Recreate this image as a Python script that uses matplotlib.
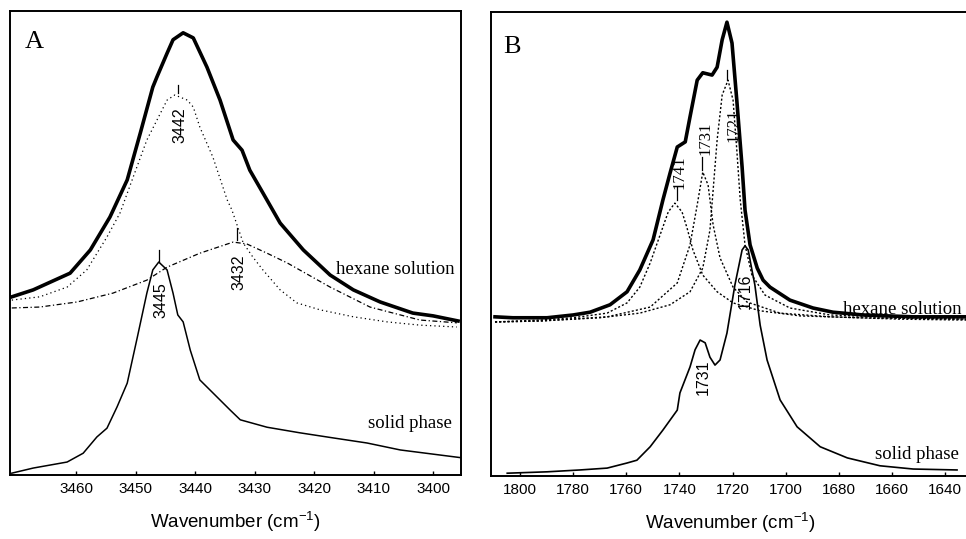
import matplotlib
matplotlib.use("Agg")
import matplotlib.pyplot as plt

# Panel A: O-H stretch region
a_total_wn = [3470.8, 3467.2, 3461.0, 3457.6, 3454.3, 3451.4, 3449.2, 3447.1, 3446.4, 3444.7,
              3443.7, 3442.0, 3440.3, 3438.0, 3435.8, 3433.6, 3432.1, 3430.8, 3428.6, 3425.7,
              3421.8, 3417.3, 3413.4, 3408.9, 3403.4, 3400.0, 3395.8]
a_total = [38.4, 39.9, 43.5, 48.5, 55.6, 63.6, 73.7, 83.6, 85.8, 90.9,
           93.8, 95.3, 94.2, 87.9, 80.8, 72.2, 70.0, 65.7, 60.8, 54.3,
           48.5, 43.1, 39.9, 37.3, 34.9, 34.3, 33.2]

a_c3442_wn = [3470.8, 3466.1, 3461.5, 3458.2, 3454.8, 3452.6, 3450.4, 3448.1, 3444.7, 3443.4,
              3441.3, 3440.3, 3439.2, 3437.0, 3434.6, 3433.8, 3431.9, 3430.3, 3428.6, 3425.7,
              3422.9, 3419.0, 3413.4, 3407.7, 3402.2, 3396.0]
a_c3442 = [37.7, 38.4, 40.5, 44.2, 51.3, 56.5, 64.2, 72.2, 80.8, 81.9,
           80.8, 79.3, 75.0, 68.5, 59.3, 57.1, 50.0, 47.0, 44.2, 39.9,
           37.1, 35.6, 34.1, 33.0, 32.3, 31.9]

a_c3432_wn = [3470.8, 3466.1, 3459.8, 3453.8, 3448.1, 3444.7, 3439.2, 3433.6, 3431.3, 3427.9,
              3424.5, 3417.3, 3410.6, 3402.2, 3396.0]
a_c3432 = [36.0, 36.2, 37.3, 39.2, 42.0, 44.8, 47.8, 50.2, 49.8, 47.8,
           45.7, 40.5, 36.2, 33.4, 32.8]

a_solid_wn = [3470.8, 3467.2, 3461.5, 3458.8, 3456.5, 3454.8, 3453.1, 3451.4, 3449.7, 3448.1,
              3447.1, 3446.1, 3444.7, 3443.7, 3442.9, 3442.0, 3440.8, 3439.2, 3437.0, 3434.1,
              3432.4, 3427.9, 3422.4, 3416.8, 3411.1, 3405.5, 3395.1]
a_solid = [0.4, 1.5, 2.8, 4.7, 8.2, 10.1, 14.7, 19.8, 29.7, 39.2,
           44.2, 45.9, 44.2, 39.2, 34.5, 33.0, 26.9, 20.5, 17.7, 14.0,
           11.9, 10.3, 9.1, 8.0, 6.9, 5.4, 3.7]

# Panel B: C=O stretch region
b_total_wn = [1809.4, 1802.7, 1789.8, 1780.0, 1773.6, 1766.1, 1759.7, 1754.9, 1749.9, 1746.2,
              1743.5, 1740.8, 1737.8, 1736.0, 1733.3, 1731.2, 1727.7, 1725.8, 1723.9, 1722.1,
              1720.2, 1718.4, 1716.4, 1715.3, 1713.4, 1710.7, 1708.5, 1705.9, 1698.4, 1689.7,
              1682.2, 1670.9, 1652.0, 1631.5]
b_total = [34.3, 34.1, 34.1, 34.7, 35.3, 36.9, 39.7, 44.4, 50.9, 59.5,
           65.3, 70.9, 72.0, 77.4, 85.3, 86.9, 86.4, 88.1, 94.0, 97.8,
           93.3, 81.0, 66.6, 57.3, 49.8, 44.8, 42.2, 40.7, 37.9, 36.2,
           35.3, 34.7, 34.3, 34.3]

b_c1741_wn = [1809.4, 1792.5, 1780.0, 1767.2, 1759.7, 1754.9, 1751.0, 1747.3, 1744.2, 1741.7,
              1739.0, 1737.1, 1734.9, 1731.2, 1725.8, 1719.8, 1709.6, 1694.6, 1672.0, 1631.5]
b_c1741 = [33.2, 33.6, 34.1, 35.1, 37.3, 40.7, 45.9, 51.9, 56.9, 58.8,
           56.9, 53.4, 48.7, 43.3, 39.7, 37.3, 35.6, 34.5, 34.1, 33.8]

b_c1731_wn = [1809.4, 1792.5, 1767.2, 1751.0, 1740.8, 1736.0, 1733.3, 1731.2, 1729.2, 1727.3,
              1724.7, 1719.8, 1714.6, 1702.1, 1683.3, 1656.9, 1631.5]
b_c1731 = [33.2, 33.4, 34.3, 36.4, 41.6, 49.8, 58.4, 65.5, 62.7, 54.1,
           47.0, 40.7, 37.5, 35.1, 34.3, 33.8, 33.6]

b_c1721_wn = [1809.4, 1792.5, 1769.9, 1754.9, 1743.5, 1736.0, 1731.2, 1728.5, 1727.3, 1725.8,
              1723.9, 1721.7, 1719.8, 1718.4, 1717.1, 1715.3, 1712.7, 1707.8, 1698.4, 1683.3,
              1656.9, 1631.5]
b_c1721 = [33.2, 33.4, 34.1, 35.1, 36.9, 39.7, 44.8, 53.0, 61.6, 72.4,
           82.1, 85.3, 81.0, 70.3, 59.5, 49.8, 43.3, 39.0, 36.2, 34.7,
           34.1, 33.8]

b_solid_wn = [1804.8, 1789.8, 1777.4, 1767.2, 1759.7, 1756.0, 1751.0, 1746.2, 1740.8, 1739.8,
              1736.0, 1734.1, 1732.2, 1730.3, 1728.5, 1726.6, 1724.7, 1722.1, 1719.1, 1716.4,
              1715.3, 1714.1, 1712.7, 1711.6, 1709.6, 1707.0, 1702.1, 1695.7, 1687.0, 1676.8,
              1664.5, 1652.0, 1635.5]
b_solid = [0.6, 0.9, 1.3, 1.7, 2.8, 3.4, 6.3, 9.9, 14.2, 17.9,
           23.5, 27.2, 29.3, 28.7, 25.6, 23.9, 25.0, 30.8, 41.2, 48.7,
           49.6, 48.7, 44.4, 41.2, 32.5, 25.0, 16.4, 10.6, 6.3, 3.9,
           2.2, 1.5, 1.3]

# peak annotations: (label, label x, label y, marker x, marker y0, marker y1, serif?)
a_peaks = [("3442", 3442.5, 75.4, 3442.9, 82.3, 84.1, False),
           ("3432", 3432.6, 43.8, 3432.9, 50.6, 53.2, False),
           ("3445", 3445.7, 37.7, 3446.0, 45.9, 48.5, False)]
b_peaks = [("1741", 1739.8, 65.5, 1740.8, 59.5, 62.3, True),
           ("1731", 1730.0, 72.8, 1731.5, 66.0, 68.8, True),
           ("1721", 1719.8, 75.6, 1722.1, 85.3, 87.5, True),
           ("1716", 1715.3, 39.9, None, None, None, False),
           ("1731", 1731.2, 21.3, None, None, None, False)]

a_ticks = [3460, 3450, 3440, 3430, 3420, 3410, 3400]
b_ticks = [1800, 1780, 1760, 1740, 1720, 1700, 1680, 1660, 1640]

SERIF = "Liberation Serif"
SANS = "Liberation Sans"

plt.rcParams["mathtext.fontset"] = "custom"
plt.rcParams["mathtext.rm"] = SANS
plt.rcParams["mathtext.default"] = "regular"

fig = plt.figure(figsize=(9.66, 5.39), dpi=100)
axA = fig.add_axes([0.01035, 0.1187, 0.4669, 0.8609])
axB = fig.add_axes([0.5083, 0.1169, 0.4948, 0.8609])

for ax in (axA, axB):
    ax.set_ylim(0, 100)
    ax.set_yticks([])
    for s in ax.spines.values():
        s.set_linewidth(1.4)
        s.set_color("black")
    ax.tick_params(axis="x", direction="in", length=3, width=1, pad=5)

# panel A
axA.plot(a_c3442_wn, a_c3442, color="black", lw=0.9, ls=(0, (1, 2.5)))
axA.plot(a_c3432_wn, a_c3432, color="black", lw=0.9, ls=(0, (4, 2, 1, 2)))
axA.plot(a_total_wn, a_total, color="black", lw=2.6)
axA.plot(a_solid_wn, a_solid, color="black", lw=1.1)
axA.set_xlim(3471.1, 3395.3)
axA.set_xticks(a_ticks)
axA.set_xticklabels([str(t) for t in a_ticks], family=SANS, fontsize=11)
axA.set_xlabel("Wavenumber (cm$^{-1}$)", family=SANS, fontsize=13.5, labelpad=10)
axA.text(3468.7, 93.3, "A", family=SERIF, fontsize=19, va="center", ha="left")
axA.text(3396.3, 44.2, "hexane solution", family=SERIF, fontsize=13.5, va="center", ha="right")
axA.text(3396.8, 11.2, "solid phase", family=SERIF, fontsize=13.5, va="center", ha="right")
for lab, lx, ly, mx, m0, m1, serif in a_peaks:
    axA.text(lx, ly, lab, family=SERIF if serif else SANS, fontsize=11.5, rotation=90,
             ha="center", va="center")
    axA.plot([mx, mx], [m0, m1], color="black", lw=0.9)

# panel B
axB.plot(b_c1741_wn, b_c1741, color="black", lw=1.0, ls=(0, (1.5, 1.5)))
axB.plot(b_c1731_wn, b_c1731, color="black", lw=1.0, ls=(0, (1.5, 1.5)))
axB.plot(b_c1721_wn, b_c1721, color="black", lw=1.0, ls=(0, (1.5, 1.5)))
axB.plot(b_total_wn, b_total, color="black", lw=2.6)
axB.plot(b_solid_wn, b_solid, color="black", lw=1.2)
axB.set_xlim(1810.9, 1631.0)
axB.set_xticks(b_ticks)
axB.set_xticklabels([str(t) for t in b_ticks], family=SANS, fontsize=11)
axB.set_xlabel("Wavenumber (cm$^{-1}$)", family=SANS, fontsize=13.5, labelpad=10)
axB.spines["right"].set_visible(False)
axB.text(1806.4, 92.5, "B", family=SERIF, fontsize=19, va="center", ha="left")
axB.text(1678.4, 35.8, "hexane solution", family=SERIF, fontsize=13.5, va="center", ha="left")
axB.text(1666.3, 4.7, "solid phase", family=SERIF, fontsize=13.5, va="center", ha="left")
for lab, lx, ly, mx, m0, m1, serif in b_peaks:
    axB.text(lx, ly, lab, family=SERIF if serif else SANS, fontsize=12 if serif else 11.5,
             rotation=90, ha="center", va="center")
    if mx is not None:
        axB.plot([mx, mx], [m0, m1], color="black", lw=0.9)

fig.savefig("out.png", dpi=100, facecolor="white")
